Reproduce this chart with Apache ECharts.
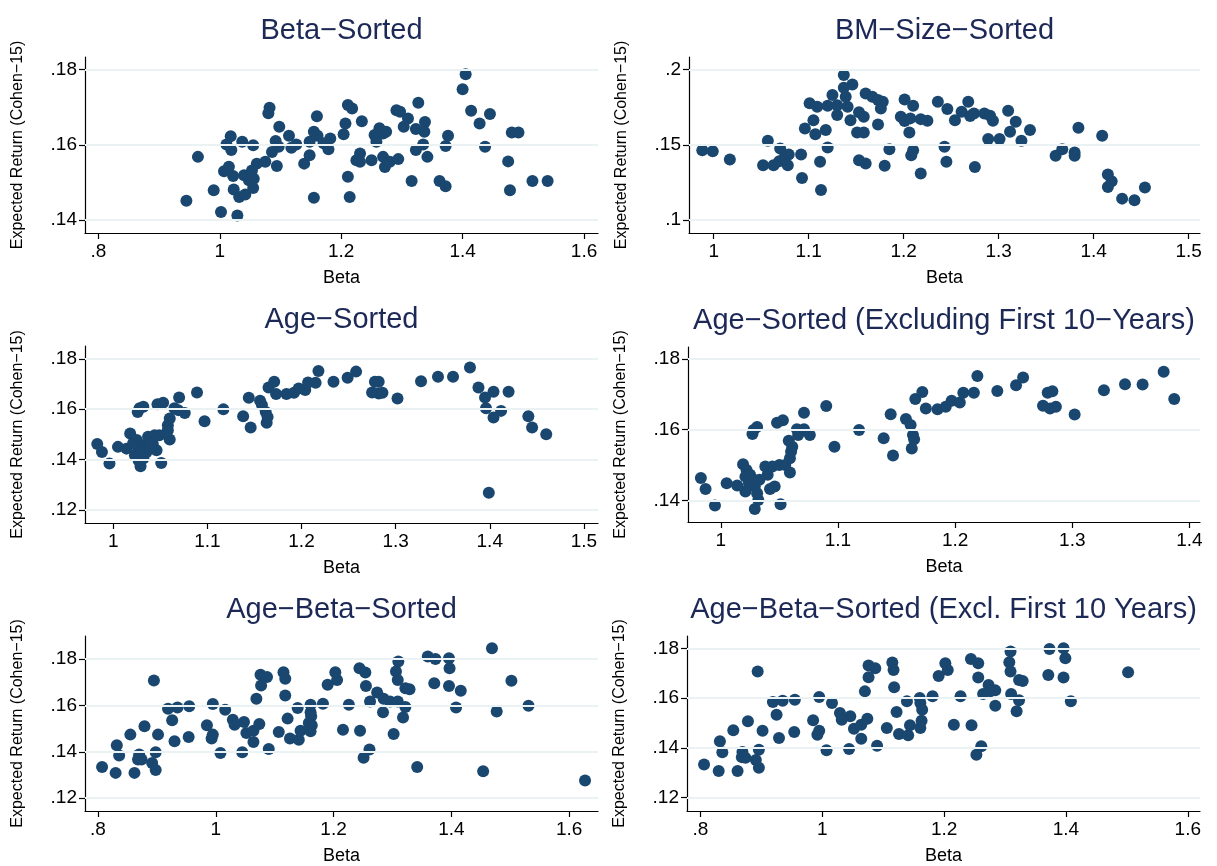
<!DOCTYPE html>
<html>
<head>
<meta charset="utf-8">
<script src="https://cdn.jsdelivr.net/npm/echarts@6/dist/echarts.min.js"></script>
<style>
  html, body { margin: 0; padding: 0; background: #fff; }
  #chart { width: 1217px; height: 866px; }
</style>
</head>
<body>
<div id="chart"></div>
<script>
// values, [beta, expected return]
var betaSorted = [
  [0.945,.1451],[0.964,.1568],[0.990,.1479],[1.002,.1421],[1.029,.1412],[1.007,.1530],[1.015,.1542],
  [1.022,.1517],[1.018,.1623],[1.011,.1601],[1.019,.1586],[1.037,.1608],[1.055,.1599],[1.023,.1481],
  [1.032,.1461],[1.042,.1468],[1.040,.1519],[1.048,.1506],[1.055,.1485],[1.056,.1510],[1.053,.1532],
  [1.061,.1550],[1.075,.1555],[1.094,.1544],[1.082,.1699],[1.080,.1684],[1.098,.1648],[1.092,.1610],
  [1.086,.1581],[1.097,.1595],[1.114,.1624],[1.118,.1592],[1.126,.1601],[1.139,.1550],[1.148,.1608],
  [1.155,.1635],[1.160,.1676],[1.148,.1572],[1.155,.1459],[1.161,.1624],[1.179,.1588],[1.171,.1604],
  [1.182,.1617],[1.204,.1628],[1.207,.1657],[1.211,.1706],[1.211,.1515],[1.214,.1461],[1.218,.1697],
  [1.234,.1663],[1.225,.1559],[1.231,.1577],[1.231,.1555],[1.250,.1559],[1.255,.1626],[1.258,.1608],
  [1.263,.1644],[1.269,.1630],[1.274,.1635],[1.269,.1568],[1.272,.1541],[1.280,.1555],[1.294,.1562],
  [1.291,.1692],[1.297,.1688],[1.310,.1670],[1.303,.1648],[1.316,.1504],[1.323,.1642],[1.327,.1712],
  [1.338,.1661],[1.337,.1635],[1.335,.1601],[1.323,.1586],[1.342,.1568],[1.362,.1504],[1.372,.1490],
  [1.372,.1597],[1.376,.1624],[1.400,.1748],[1.405,.1788],[1.414,.1691],[1.428,.1657],[1.445,.1682],
  [1.437,.1595],[1.475,.1556],[1.481,.1633],[1.492,.1633],[1.478,.1479],[1.515,.1504],[1.540,.1504]
];
var bmSizeSorted = [
  [0.988,.1464],[0.999,.1458],[1.017,.1402],[1.052,.1364],[1.057,.1527],[1.063,.1364],[1.070,.1476],
  [1.069,.1391],[1.074,.1409],[1.078,.1364],[1.079,.1436],[1.092,.1436],[1.093,.1280],[1.096,.1609],
  [1.101,.1776],[1.105,.1664],[1.107,.1571],[1.109,.1753],[1.118,.1598],[1.112,.1387],[1.113,.1200],
  [1.120,.1482],[1.120,.1760],[1.125,.1831],[1.130,.1698],[1.130,.1764],[1.137,.1964],[1.137,.1880],
  [1.139,.1820],[1.146,.1902],[1.141,.1753],[1.144,.1664],[1.151,.1582],[1.153,.1716],[1.158,.1582],
  [1.158,.1687],[1.153,.1398],[1.160,.1376],[1.160,.1842],[1.167,.1820],[1.173,.1798],[1.176,.1742],
  [1.178,.1787],[1.173,.1636],[1.185,.1471],[1.180,.1360],[1.197,.1687],[1.201,.1802],[1.201,.1658],
  [1.207,.1676],[1.210,.1760],[1.206,.1582],[1.210,.1464],[1.208,.1431],[1.218,.1309],[1.218,.1671],
  [1.225,.1660],[1.236,.1787],[1.246,.1738],[1.243,.1487],[1.245,.1387],[1.254,.1664],[1.261,.1720],
  [1.268,.1787],[1.270,.1691],[1.274,.1709],[1.275,.1353],[1.285,.1709],[1.291,.1693],[1.294,.1660],
  [1.289,.1538],[1.301,.1538],[1.310,.1727],[1.318,.1653],[1.312,.1587],[1.324,.1527],[1.333,.1598],
  [1.360,.1427],[1.367,.1471],[1.380,.1449],[1.380,.1427],[1.384,.1613],[1.409,.1560],[1.415,.1302],
  [1.419,.1258],[1.415,.1220],[1.430,.1142],[1.443,.1131],[1.454,.1216]
];
var ageSorted = [
  [0.983,.1461],[0.988,.1430],[0.996,.1384],[1.005,.1450],[1.014,.1443],[1.018,.1503],[1.021,.1463],
  [1.023,.1417],[1.025,.1477],[1.026,.1450],[1.028,.1437],[1.029,.1373],[1.032,.1404],[1.033,.1457],
  [1.037,.1490],[1.039,.1443],[1.040,.1470],[1.046,.1437],[1.044,.1496],[1.049,.1496],[1.051,.1386],
  [1.030,.1440],[1.035,.1428],[1.027,.1396],[1.042,.1462],
  [1.060,.1479],[1.058,.1536],[1.060,.1563],[1.058,.1516],[1.026,.1589],[1.028,.1603],[1.032,.1609],
  [1.047,.1619],[1.053,.1625],[1.065,.1603],[1.070,.1646],[1.069,.1596],[1.076,.1585],[1.089,.1666],
  [1.097,.1552],[1.117,.1599],[1.138,.1572],[1.144,.1645],[1.146,.1527],[1.156,.1633],[1.158,.1616],
  [1.162,.1589],[1.164,.1569],[1.163,.1546],[1.165,.1686],[1.171,.1709],[1.173,.1660],[1.184,.1660],
  [1.192,.1665],[1.197,.1682],[1.204,.1676],[1.207,.1706],[1.215,.1705],[1.218,.1751],[1.234,.1709],
  [1.249,.1725],[1.258,.1749],[1.278,.1709],[1.282,.1709],[1.275,.1666],[1.282,.1662],[1.286,.1665],
  [1.302,.1642],[1.327,.1711],[1.345,.1729],[1.361,.1729],[1.379,.1765],[1.388,.1686],[1.395,.1646],
  [1.404,.1669],[1.396,.1603],[1.404,.1567],[1.412,.1593],[1.420,.1669],[1.399,.1268],[1.441,.1572],
  [1.445,.1527],[1.460,.1500]
];
var ageSortedExcl = [
  [0.983,.1463],[0.987,.1432],[0.995,.1385],[1.005,.1448],[1.014,.1442],[1.019,.1502],[1.022,.1486],
  [1.021,.1467],[1.024,.1448],[1.021,.1425],[1.025,.1472],[1.028,.1458],[1.029,.1439],[1.031,.1420],
  [1.032,.1401],[1.029,.1375],[1.033,.1458],[1.038,.1496],[1.040,.1472],[1.042,.1432],[1.046,.1439],
  [1.044,.1496],[1.050,.1500],[1.051,.1389],[1.055,.1500],[1.059,.1479],[1.059,.1519],[1.060,.1538],
  [1.061,.1552],[1.058,.1569],[1.066,.1585],[1.065,.1601],[1.071,.1601],[1.076,.1585],[1.027,.1588],
  [1.028,.1599],[1.031,.1608],[1.048,.1620],[1.053,.1627],[1.071,.1648],[1.090,.1667],[1.097,.1552],
  [1.118,.1599],[1.139,.1576],[1.145,.1644],[1.147,.1527],[1.158,.1630],[1.162,.1613],[1.164,.1585],
  [1.165,.1573],[1.163,.1547],[1.166,.1687],[1.172,.1707],[1.175,.1660],[1.185,.1658],[1.192,.1665],
  [1.197,.1682],[1.204,.1677],[1.207,.1705],[1.216,.1705],[1.219,.1752],[1.236,.1710],[1.252,.1726],
  [1.258,.1748],[1.275,.1668],[1.279,.1705],[1.283,.1709],[1.281,.1660],[1.286,.1665],[1.302,.1643],
  [1.327,.1712],[1.345,.1729],[1.360,.1728],[1.378,.1764],[1.387,.1687]
];
var ageBetaSorted = [
  [0.807,.1334],[0.830,.1309],[0.832,.1428],[0.836,.1384],[0.855,.1474],[0.862,.1309],[0.870,.1388],
  [0.868,.1367],[0.874,.1367],[0.879,.1510],[0.892,.1352],[0.898,.1321],[0.898,.1398],[0.895,.1707],
  [0.902,.1474],[0.919,.1586],[0.926,.1536],[0.935,.1591],[0.930,.1445],[0.955,.1596],[0.954,.1464],
  [0.985,.1514],[0.995,.1606],[0.995,.1474],[0.993,.1457],[1.008,.1395],[1.016,.1581],[1.029,.1538],
  [1.032,.1517],[1.048,.1528],[1.052,.1481],[1.045,.1398],[1.064,.1491],[1.064,.1442],[1.074,.1520],
  [1.069,.1629],[1.076,.1732],[1.087,.1722],[1.077,.1686],[1.090,.1412],[1.107,.1485],[1.115,.1743],
  [1.118,.1715],[1.118,.1643],[1.122,.1543],[1.126,.1457],[1.139,.1589],[1.141,.1452],[1.144,.1491],
  [1.161,.1603],[1.161,.1571],[1.162,.1553],[1.158,.1524],[1.163,.1514],[1.161,.1488],[1.182,.1607],
  [1.190,.1689],[1.203,.1743],[1.206,.1710],[1.216,.1495],[1.226,.1603],[1.244,.1760],[1.254,.1742],
  [1.245,.1491],[1.255,.1684],[1.261,.1410],[1.251,.1374],[1.262,.1617],[1.274,.1656],[1.285,.1629],
  [1.284,.1570],[1.296,.1617],[1.310,.1789],[1.306,.1746],[1.309,.1710],[1.309,.1617],[1.322,.1674],
  [1.329,.1670],[1.322,.1593],[1.318,.1548],[1.302,.1477],[1.342,.1334],[1.360,.1811],[1.373,.1800],
  [1.396,.1803],[1.397,.1760],[1.371,.1696],[1.396,.1684],[1.416,.1663],[1.408,.1591],[1.469,.1846],
  [1.454,.1316],[1.477,.1574],[1.502,.1706],[1.531,.1599],[1.627,.1276]
];
var ageBetaSortedExcl = [
  [0.806,.1333],[0.830,.1307],[0.832,.1427],[0.836,.1383],[0.854,.1471],[0.861,.1307],[0.869,.1384],
  [0.868,.1363],[0.874,.1360],[0.878,.1507],[0.891,.1351],[0.896,.1320],[0.896,.1393],[0.894,.1707],
  [0.902,.1469],[0.919,.1584],[0.925,.1533],[0.935,.1589],[0.929,.1440],[0.955,.1593],[0.954,.1464],
  [0.985,.1511],[0.995,.1604],[0.995,.1469],[0.992,.1453],[1.007,.1391],[1.016,.1580],[1.029,.1540],
  [1.032,.1513],[1.046,.1527],[1.052,.1477],[1.044,.1396],[1.064,.1493],[1.064,.1437],[1.074,.1517],
  [1.070,.1627],[1.076,.1731],[1.087,.1720],[1.076,.1684],[1.090,.1409],[1.106,.1480],[1.115,.1743],
  [1.117,.1713],[1.118,.1644],[1.122,.1544],[1.126,.1456],[1.139,.1587],[1.141,.1451],[1.144,.1491],
  [1.160,.1600],[1.161,.1580],[1.164,.1553],[1.163,.1509],[1.161,.1480],[1.181,.1607],[1.191,.1689],
  [1.202,.1740],[1.206,.1713],[1.216,.1493],[1.227,.1607],[1.244,.1757],[1.256,.1740],[1.256,.1683],
  [1.245,.1491],[1.261,.1407],[1.253,.1373],[1.264,.1616],[1.273,.1653],[1.284,.1631],[1.284,.1569],
  [1.276,.1627],[1.309,.1787],[1.307,.1744],[1.309,.1707],[1.310,.1616],[1.323,.1673],[1.329,.1669],
  [1.323,.1591],[1.319,.1547],[1.373,.1797],[1.396,.1800],[1.399,.1760],[1.371,.1693],[1.396,.1683],
  [1.408,.1587],[1.502,.1704]
];

var panelTitles = [
  'Beta\u2212Sorted', 'BM\u2212Size\u2212Sorted', 'Age\u2212Sorted',
  'Age\u2212Sorted (Excluding First 10\u2212Years)', 'Age\u2212Beta\u2212Sorted',
  'Age\u2212Beta\u2212Sorted (Excl. First 10 Years)'
];
var panelData = [betaSorted, bmSizeSorted, ageSorted, ageSortedExcl, ageBetaSorted, ageBetaSortedExcl];
var xTickLabels = [
  [0.8, 1, 1.2, 1.4, 1.6], [1, 1.1, 1.2, 1.3, 1.4, 1.5], [1, 1.1, 1.2, 1.3, 1.4, 1.5],
  [1, 1.1, 1.2, 1.3, 1.4], [0.8, 1, 1.2, 1.4, 1.6], [0.8, 1, 1.2, 1.4, 1.6]
];
var yTickLabels = [
  [0.14, 0.16, 0.18], [0.1, 0.15, 0.2], [0.12, 0.14, 0.16, 0.18],
  [0.14, 0.16, 0.18], [0.12, 0.14, 0.16, 0.18], [0.12, 0.14, 0.16, 0.18]
];

var layout = [
  {left: 85,  top: 57,  width: 513, height: 176, x: [0.778, 1.623], y: [0.13653, 0.18339]},
  {left: 689, top: 57,  width: 511, height: 176, x: [0.974, 1.512], y: [0.09133, 0.20844]},
  {left: 85,  top: 346, width: 513, height: 177, x: [0.970, 1.515], y: [0.11475, 0.18508]},
  {left: 688, top: 347, width: 512, height: 175, x: [0.972, 1.409], y: [0.13384, 0.18344]},
  {left: 85,  top: 636, width: 513, height: 176, x: [0.778, 1.649], y: [0.11446, 0.18993]},
  {left: 687, top: 636, width: 513, height: 176, x: [0.778, 1.620], y: [0.11467, 0.18493]}
];

var font = 'Liberation Sans, Arial, Helvetica, sans-serif';
function stataNum(v) {
  var s = String(+(+v).toFixed(3));
  return s.replace(/^0\./, '.');
}

var myChart = echarts.init(document.getElementById('chart'));
var option = {
  backgroundColor: '#fff',
  animation: false,
  title: [], grid: [], xAxis: [], yAxis: [], series: []
};

layout.forEach(function (g, i) {
  option.title.push({
    text: panelTitles[i],
    left: g.left + g.width / 2,
    top: g.top - 41,
    textAlign: 'center',
    padding: 0,
    textStyle: {fontFamily: font, fontSize: 29, fontWeight: 'normal', color: '#1c2856'}
  });
  option.grid.push({left: g.left, top: g.top, width: g.width, height: g.height});
  option.xAxis.push({
    type: 'value', gridIndex: i, min: g.x[0], max: g.x[1],
    name: 'Beta', nameLocation: 'middle', nameGap: 36,
    nameTextStyle: {fontFamily: font, fontSize: 18, color: '#000'},
    axisLine: {onZero: false, lineStyle: {color: '#000', width: 1.2}},
    axisTick: {customValues: xTickLabels[i], length: 6, lineStyle: {color: '#000', width: 1.2}},
    axisLabel: {customValues: xTickLabels[i], formatter: stataNum, fontFamily: font, fontSize: 19, color: '#000', margin: 9},
    splitLine: {show: false}
  });
  option.yAxis.push({
    type: 'value', gridIndex: i, min: g.y[0], max: g.y[1],
    name: 'Expected Return (Cohen\u221215)', nameLocation: 'middle', nameGap: 59,
    nameTextStyle: {fontFamily: font, fontSize: 16, color: '#000'},
    axisLine: {onZero: false, lineStyle: {color: '#000', width: 1.2}},
    axisTick: {customValues: yTickLabels[i], length: 6, lineStyle: {color: '#000', width: 1.2}},
    axisLabel: {customValues: yTickLabels[i], formatter: stataNum, fontFamily: font, fontSize: 19, color: '#000', margin: 8},
    splitLine: {show: false}
  });
  // gridlines behind the markers
  option.series.push({
    type: 'line', xAxisIndex: i, yAxisIndex: i, data: [], z: 1, silent: true,
    markLine: {
      silent: true, symbol: ['none', 'none'], label: {show: false},
      lineStyle: {color: '#eaf2f3', width: 1.8, type: 'solid'},
      data: yTickLabels[i].map(function (v) { return {yAxis: v}; })
    }
  });
  option.series.push({
    type: 'scatter', xAxisIndex: i, yAxisIndex: i, z: 3,
    data: panelData[i], symbol: 'circle', symbolSize: 12,
    itemStyle: {color: '#1a476f', opacity: 1}
  });
});

myChart.setOption(option);
</script>
</body>
</html>
